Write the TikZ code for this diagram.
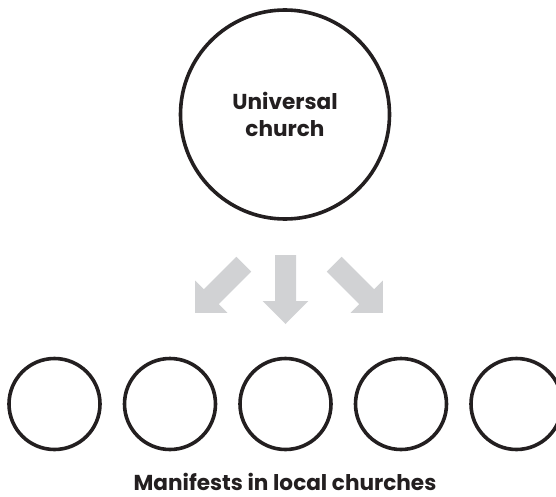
\documentclass[tikz,border=0pt]{standalone}
\usepackage{fontspec}
\newfontfamily\labelfont{Poppins}
\begin{document}
\begin{tikzpicture}[x=1pt,y=-1pt,
  ink/.style={draw=inkcol,line width=3.6pt},
  bigring/.style={ink,circle,minimum size=209pt,inner sep=0pt},
  smallring/.style={ink,circle,minimum size=91pt,inner sep=0pt},
  caption/.style={text=inkcol,font=\labelfont\bfseries\fontsize{21.6}{26.7}\selectfont,align=center},
  blockarrow/.pic={\fill[arrowgray] (-10.5,0) -- (10.5,0) -- (10.5,46) -- (22.8,46)
      -- (0,69) -- (-22.8,46) -- (-10.5,46) -- cycle;}]
\definecolor{inkcol}{HTML}{231F20}
\definecolor{arrowgray}{HTML}{D1D2D4}
\useasboundingbox (0,0) rectangle (556,497);

% the universal church
\node[bigring,caption] (universal) at (285,114.5) {Universal\\church};

% three block arrows fanning out downwards
\pic[rotate=-45] at (243.8,264.2) {blockarrow};
\pic at (285.5,255) {blockarrow};
\pic[rotate=45] at (334.2,264.2) {blockarrow};

% row of local churches
\foreach \i/\x in {1/54.5,2/170,3/285.5,4/401,5/516.5}
  \node[smallring] (local\i) at (\x,404) {};

\node[caption,anchor=base,inner sep=0pt] (label) at (285,490) {Manifests in local churches};
\end{tikzpicture}
\end{document}
